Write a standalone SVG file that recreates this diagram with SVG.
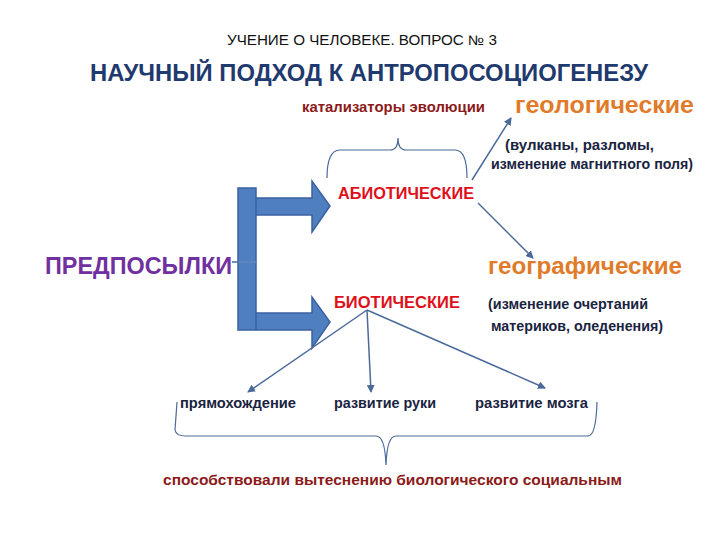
<svg xmlns="http://www.w3.org/2000/svg" width="720" height="540" viewBox="0 0 720 540">
<defs>
<style>
text{font-family:"Liberation Sans","Noto Sans",sans-serif;font-weight:bold}
.t1{font-size:14px;font-weight:normal;fill:#111}
.t2{font-size:24px;fill:#1f3a6e}
.cat{font-size:14px;fill:#8b1a1a}
.or{font-size:23px;fill:#e07b2a}
.nv{font-size:14px;fill:#1a2440}
.rd{font-size:17px;fill:#e0101a}
.conn{stroke:#4a6a9a;stroke-width:1.5;fill:none}
.br{stroke:#4a6a9a;stroke-width:1.2;fill:none}
</style>
<marker id="ah" markerWidth="8" markerHeight="8" refX="7" refY="4" orient="auto" markerUnits="userSpaceOnUse"><path d="M0,0 L8,4 L0,8 z" fill="#4a6a9a"/></marker>
</defs>
<rect width="720" height="540" fill="#fff"/>
<g id="title">
<text class="t1" x="227" y="45" textLength="270" lengthAdjust="spacingAndGlyphs">УЧЕНИЕ О ЧЕЛОВЕКЕ. ВОПРОС № 3</text>
<text class="t2" x="90" y="81" textLength="558" lengthAdjust="spacingAndGlyphs">НАУЧНЫЙ ПОДХОД К АНТРОПОСОЦИОГЕНЕЗУ</text>
</g>
<g id="catalysts"><text class="cat" x="302" y="112" textLength="183" lengthAdjust="spacingAndGlyphs">катализаторы эволюции</text>
<path class="br" d="M327,178 Q327,150 340,150 L390,150 Q398,150 398,138 Q398,150 406,150 L455,150 Q467,150 467,178"/></g>
<g id="geo"><text class="or" x="515" y="113" textLength="179" lengthAdjust="spacingAndGlyphs">геологические</text>
<text class="nv" x="505" y="150" textLength="149" lengthAdjust="spacingAndGlyphs">(вулканы, разломы,</text>
<text class="nv" x="491" y="169" textLength="202" lengthAdjust="spacingAndGlyphs">изменение магнитного поля)</text></g>
<g id="geog"><text class="or" x="488" y="274" textLength="194" lengthAdjust="spacingAndGlyphs">географические</text>
<text class="nv" x="488" y="309" textLength="160" lengthAdjust="spacingAndGlyphs">(изменение очертаний</text>
<text class="nv" x="491" y="331" textLength="172" lengthAdjust="spacingAndGlyphs">материков, оледенения)</text></g>
<g id="abio"><text class="rd" x="338" y="199" textLength="136" lengthAdjust="spacingAndGlyphs">АБИОТИЧЕСКИЕ</text></g>
<g id="bio"><text class="rd" x="334" y="308" textLength="126" lengthAdjust="spacingAndGlyphs">БИОТИЧЕСКИЕ</text></g>
<g id="pre"><text x="45" y="274" style="font-size:23px;fill:#7030a0" textLength="187" lengthAdjust="spacingAndGlyphs">ПРЕДПОСЫЛКИ</text></g>
<g id="bracket" fill="#4f7fbf" stroke="#3a62a0" stroke-width="1.5">
<path d="M238,188 L256,188 L256,198 L312,198 L312,181 L330,206 L312,232 L312,215 L256,215 L256,313 L312,313 L312,297 L330,322 L312,348 L312,330 L256,330 L238,330 Z"/>
<line x1="238" y1="262" x2="256" y2="262" stroke="#6f8fc0" stroke-width="1"/>
<line x1="256" y1="198" x2="256" y2="215"/><line x1="256" y1="313" x2="256" y2="330"/>
</g>
<g id="bottom">
<text class="nv" x="180" y="408" textLength="116" lengthAdjust="spacingAndGlyphs">прямохождение</text>
<text class="nv" x="334" y="408" textLength="102" lengthAdjust="spacingAndGlyphs">развитие руки</text>
<text class="nv" x="475" y="408" textLength="113" lengthAdjust="spacingAndGlyphs">развитие мозга</text>
<path class="br" d="M177,402 L175,430 Q176,436 186,436 L376,436 Q385,436 386,465 Q387,436 396,436 L588,436 Q596,436 597,402"/>
<text x="163" y="485" style="font-size:15px;fill:#8b1a1a" textLength="459" lengthAdjust="spacingAndGlyphs">способствовали вытеснению биологического социальным</text>
</g>
<g id="connectors">
<line class="conn" x1="232" y1="262" x2="238" y2="262"/>
<line class="conn" x1="472" y1="180" x2="511" y2="118" marker-end="url(#ah)"/>
<line class="conn" x1="478" y1="203" x2="533" y2="258" marker-end="url(#ah)"/>
<line class="conn" x1="367" y1="310" x2="248" y2="392" marker-end="url(#ah)"/>
<line class="conn" x1="367" y1="310" x2="371" y2="392" marker-end="url(#ah)"/>
<line class="conn" x1="367" y1="310" x2="545" y2="388" marker-end="url(#ah)"/>
</g>
</svg>
